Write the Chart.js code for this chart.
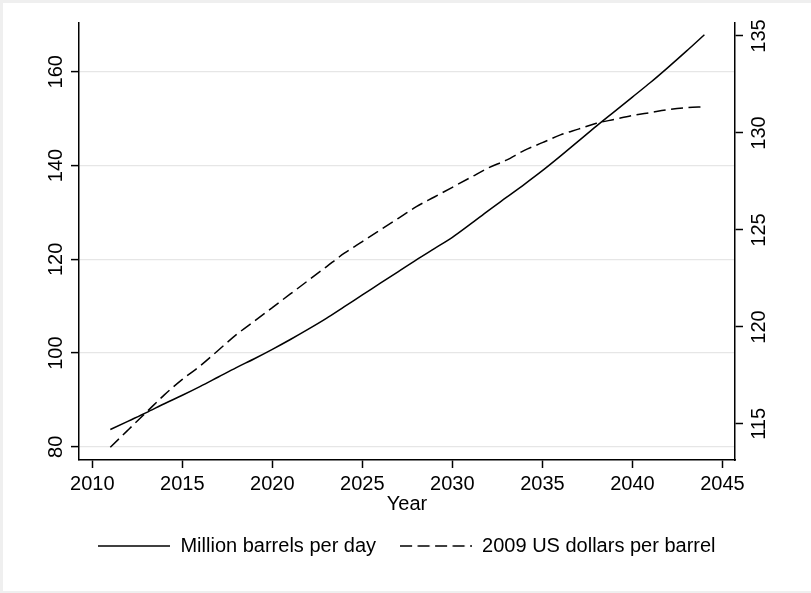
<!DOCTYPE html>
<html>
<head>
<meta charset="utf-8">
<script src="https://cdn.jsdelivr.net/npm/chart.js@4.4.0/dist/chart.umd.min.js"></script>
<style>
html, body { margin: 0; padding: 0; background: #fff; }
#wrap {
    width: 811px; height: 593px; box-sizing: border-box;
    border-top: 3px solid #efefef; border-left: 3px solid #efefef; border-bottom: 2px solid #efefef;
}
#chart { display: block; }
</style>
</head>
<body>
<div id="wrap"><canvas id="chart" width="808" height="588"></canvas></div>
<script>
// values, one per year
const years = [2011,2012,2013,2014,2015,2016,2017,2018,2019,2020,2021,2022,2023,2024,2025,2026,2027,2028,2029,2030,2031,2032,2033,2034,2035,2036,2037,2038,2039,2040,2041,2042,2043,2044];
const barrels = [83.7,85.5,87.3,89.2,91.0,92.9,94.9,96.9,98.8,100.8,102.9,105.1,107.4,109.9,112.4,114.9,117.4,119.9,122.3,124.7,127.5,130.4,133.2,136.0,138.9,142.0,145.2,148.4,151.5,154.6,157.7,161.0,164.4,167.9];
const price = [113.8,114.7,115.6,116.5,117.3,118.0,118.8,119.6,120.3,121.0,121.7,122.4,123.1,123.8,124.4,125.0,125.6,126.2,126.7,127.2,127.7,128.2,128.6,129.1,129.5,129.9,130.2,130.5,130.7,130.9,131.05,131.2,131.3,131.35];

const xTicks = [2010,2015,2020,2025,2030,2035,2040,2045];
const leftTicks = [80,100,120,140,160];
const rightTicks = [115,120,125,130,135];

const seriesNames = ['Million barrels per day', '2009 US dollars per barrel'];
const dash = [12, 5.5];

Chart.defaults.font.family = '"Liberation Sans", Arial, sans-serif';
Chart.defaults.font.size = 20;
Chart.defaults.color = '#000';

function setTicks(list) {
    return function(axis) {
        axis.ticks = list.map(v => ({value: v}));
    };
}

function toPoints(vals) {
    return years.map((y, i) => ({x: y, y: vals[i]}));
}

// legend swatch: a short line, solid or dashed
function swatch(pattern) {
    const c = document.createElement('canvas');
    c.width = 72;
    c.height = 4;
    const g = c.getContext('2d');
    g.strokeStyle = '#000';
    g.lineWidth = 1.5;
    g.setLineDash(pattern);
    g.beginPath();
    g.moveTo(0, 2);
    g.lineTo(72, 2);
    g.stroke();
    return c;
}

const ctx = document.getElementById('chart');
new Chart(ctx, {
    type: 'line',
    data: {
        datasets: [{
            label: seriesNames[0],
            data: toPoints(barrels),
            yAxisID: 'y',
            borderColor: '#000',
            borderWidth: 1.5,
            pointRadius: 0,
            pointStyle: swatch([]),
            cubicInterpolationMode: 'monotone'
        }, {
            label: seriesNames[1],
            data: toPoints(price),
            yAxisID: 'y2',
            borderColor: '#000',
            borderWidth: 1.5,
            borderDash: dash,
            pointRadius: 0,
            pointStyle: swatch(dash),
            cubicInterpolationMode: 'monotone'
        }]
    },
    options: {
        responsive: false,
        animation: false,
        layout: {padding: {top: 20, left: 0, right: 0, bottom: 25}},
        plugins: {
            tooltip: {enabled: false},
            legend: {
                position: 'bottom',
                labels: {
                    usePointStyle: true,
                    pointStyleWidth: 72,
                    boxHeight: 20,
                    padding: 24,
                    color: '#000',
                    font: {size: 20}
                }
            }
        },
        scales: {
            x: {
                type: 'linear',
                min: 2009.26,
                max: 2045.7,
                afterBuildTicks: setTicks(xTicks),
                afterFit: axis => { axis.height = 52; },
                grid: {drawOnChartArea: false, tickLength: 8, tickColor: '#000', tickWidth: 1.5},
                border: {color: '#000', width: 1.5},
                ticks: {padding: 4, maxRotation: 0, autoSkip: false, font: {size: 20}, callback: v => String(v)},
                title: {display: true, text: 'Year', font: {size: 20}, padding: {top: 0, bottom: -4}}
            },
            y: {
                position: 'left',
                min: 77.2,
                max: 170.4,
                afterBuildTicks: setTicks(leftTicks),
                afterFit: axis => { axis.width = 76; },
                grid: {color: '#e6e6e6', lineWidth: 1.2, tickLength: 8, tickColor: '#000', tickWidth: 1.5},
                border: {color: '#000', width: 1.5},
                ticks: {minRotation: 90, maxRotation: 90, crossAlign: 'center', padding: -2, font: {size: 20}, callback: v => String(v)}
            },
            y2: {
                position: 'right',
                min: 113.14,
                max: 135.67,
                afterBuildTicks: setTicks(rightTicks),
                afterFit: axis => { axis.width = 76; },
                grid: {drawOnChartArea: false, tickLength: 8, tickColor: '#000', tickWidth: 1.5},
                border: {color: '#000', width: 1.5},
                ticks: {minRotation: 90, maxRotation: 90, crossAlign: 'center', padding: 0, font: {size: 20}, callback: v => String(v)}
            }
        }
    }
});
</script>
</body>
</html>
